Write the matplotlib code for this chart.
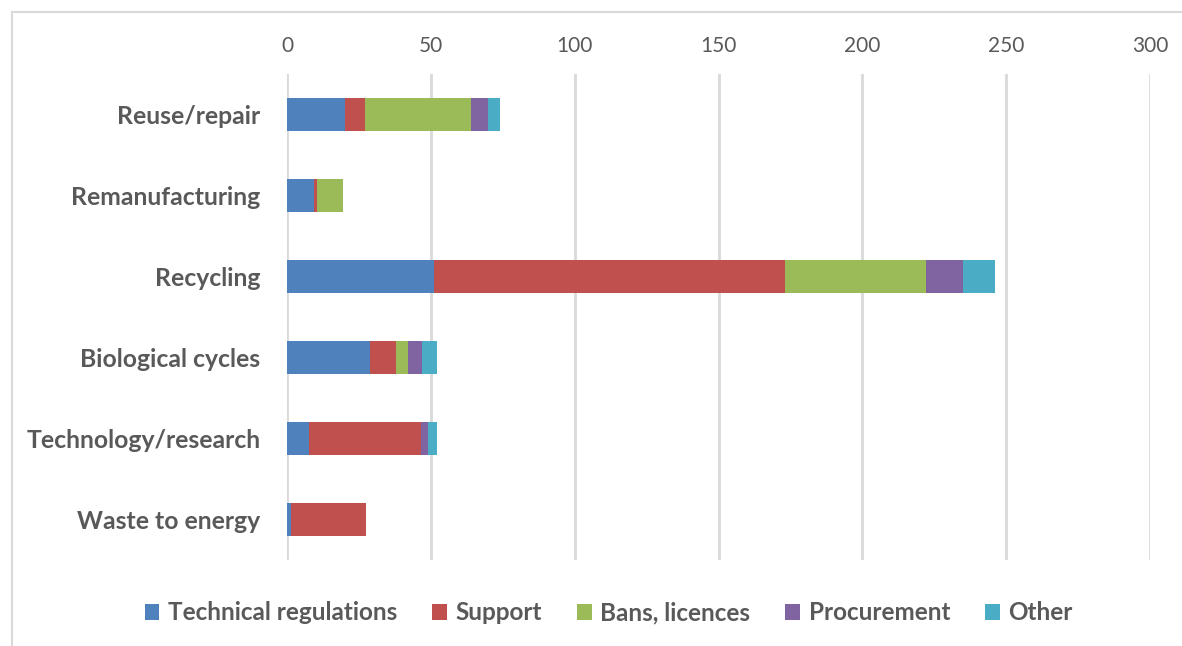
import matplotlib
matplotlib.use("Agg")
from matplotlib import pyplot as plt
from matplotlib.lines import Line2D

categories = ["Reuse/repair", "Remanufacturing", "Recycling",
              "Biological cycles", "Technology/research", "Waste to energy"]
series_names = ["Technical regulations", "Support", "Bans, licences",
                "Procurement", "Other"]
technical = [20, 9.5, 51, 29, 7.5, 1.5]
support = [7, 1, 122, 9, 39, 26]
bans = [37, 9, 49, 4, 0, 0]
procurement = [6, 0, 13, 5, 2.5, 0]
other = [4, 0, 11, 5, 3, 0]
colors = ["#4F81BD", "#C0504D", "#9BBB59", "#8064A2", "#4BACC6"]
ticks = [0, 50, 100, 150, 200, 250, 300]

plt.rcParams['font.family'] = ['Lato', 'DejaVu Sans']
grey = "#595959"

fig = plt.figure(figsize=(11.82, 6.46), dpi=100)
ax = fig.add_axes([287 / 1182, 1 - 560 / 646, (1150 - 287) / 1182, (560 - 74) / 646])

ypos = list(range(len(categories)))
left = [0] * len(categories)
for name, vals, col in zip(series_names, [technical, support, bans, procurement, other], colors):
    ax.barh(ypos, vals, left=left, height=0.4, color=col, label=name, zorder=3)
    left = [a + b for a, b in zip(left, vals)]

ax.set_ylim(len(categories) - 0.5, -0.5)
ax.set_xlim(0, 300)
ax.set_xticks(ticks)
ax.set_yticks(ypos)
ax.set_yticklabels(categories, fontsize=17.8, fontweight="bold", color=grey)
ax.xaxis.tick_top()
ax.tick_params(axis="x", labelsize=15, colors=grey, length=0, pad=13)
ax.tick_params(axis="y", length=0, pad=19)
ax.grid(axis="x", color="#D9D9D9", linewidth=2, zorder=0)
for s in ax.spines.values():
    s.set_visible(False)

leg = fig.legend(loc="center", bbox_to_anchor=(0.515, 1 - 613 / 646), ncol=5,
                 frameon=False, fontsize=17.5, handlelength=0.6, handleheight=0.6,
                 handletextpad=0.35, columnspacing=1.45)
for t in leg.get_texts():
    t.set_color(grey)
    t.set_fontweight("bold")

# light frame around the chart area
fig.add_artist(Line2D([12 / 1182, 1], [1 - 12 / 646, 1 - 12 / 646], color="#D9D9D9", linewidth=1.5))
fig.add_artist(Line2D([12 / 1182, 12 / 1182], [0, 1 - 12 / 646], color="#D9D9D9", linewidth=1.5))

fig.savefig("out.png", dpi=100)
